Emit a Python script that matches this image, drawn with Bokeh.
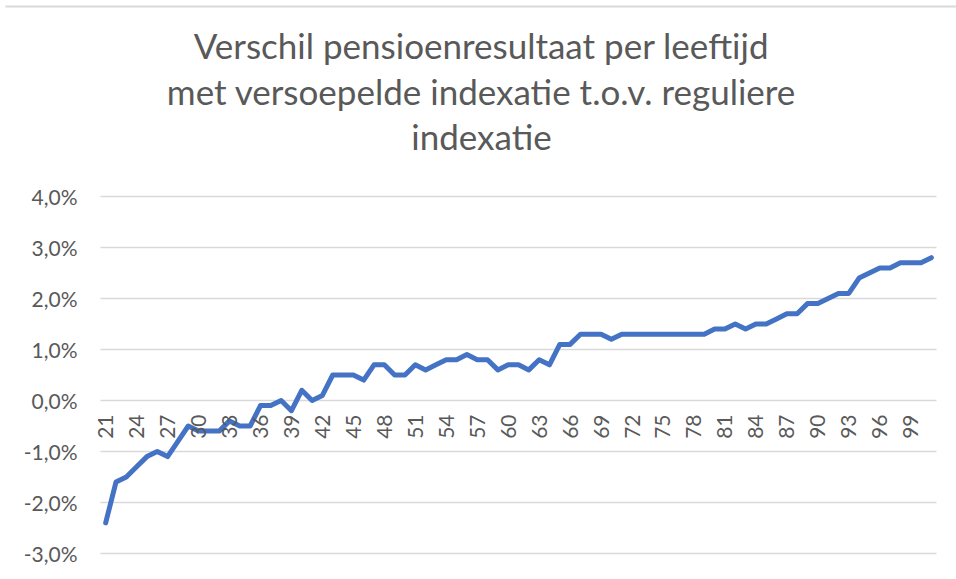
import math
from bokeh.plotting import figure
from bokeh.models import ColumnDataSource, FixedTicker, LinearAxis, Range1d
from bokeh.core.properties import value
from bokeh.embed import file_html
from bokeh.resources import INLINE

# ---- data ----
ages = list(range(21, 102))
verschil = [
    -2.4, -1.6, -1.5, -1.3, -1.1, -1.0, -1.1, -0.8, -0.5, -0.6,   # 21-30
    -0.6, -0.6, -0.4, -0.5, -0.5, -0.1, -0.1, 0.0, -0.2, 0.2,     # 31-40
    0.0, 0.1, 0.5, 0.5, 0.5, 0.4, 0.7, 0.7, 0.5, 0.5,             # 41-50
    0.7, 0.6, 0.7, 0.8, 0.8, 0.9, 0.8, 0.8, 0.6, 0.7,             # 51-60
    0.7, 0.6, 0.8, 0.7, 1.1, 1.1, 1.3, 1.3, 1.3, 1.2,             # 61-70
    1.3, 1.3, 1.3, 1.3, 1.3, 1.3, 1.3, 1.3, 1.3, 1.4,             # 71-80
    1.4, 1.5, 1.4, 1.5, 1.5, 1.6, 1.7, 1.7, 1.9, 1.9,             # 81-90
    2.0, 2.1, 2.1, 2.4, 2.5, 2.6, 2.6, 2.7, 2.7, 2.7,             # 91-100
    2.8,                                                          # 101
]
x_tick_ages = [21, 24, 27, 30, 33, 36, 39, 42, 45, 48, 51, 54, 57, 60,
               63, 66, 69, 72, 75, 78, 81, 84, 87, 90, 93, 96, 99]
x_tick_labels = ["21", "24", "27", "30", "33", "36", "39", "42", "45", "48",
                 "51", "54", "57", "60", "63", "66", "69", "72", "75", "78",
                 "81", "84", "87", "90", "93", "96", "99"]
y_ticks = [-3, -2, -1, 0, 1, 2, 3, 4]
y_tick_labels = ["-3,0%", "-2,0%", "-1,0%", "0,0%", "1,0%", "2,0%", "3,0%", "4,0%"]
title_lines = ["Verschil pensioenresultaat per leeftijd",
               "met versoepelde indexatie t.o.v. reguliere",
               "indexatie"]

FONT = "Lato"
GREY = "#595959"
GRID = "#d9d9d9"

# ---- layout (pixels on the canvas) ----
W, H = 956, 575
PL, PR, PT, PB = 100, 936, 196, 553          # plot area edges
DX0, DX1 = 20.5, 101.5                        # category band edges
DY0, DY1 = -3.0, 4.0                          # value axis range
sx = (PR - PL) / (DX1 - DX0)
sy = (PB - PT) / (DY1 - DY0)
def px2x(px): return DX0 + (px - PL) / sx
def px2y(py): return DY1 + (PT - py) / sy

p = figure(width=W, height=H, output_backend="svg", toolbar_location=None,
           x_range=Range1d(px2x(0), px2x(W)), y_range=Range1d(px2y(H), px2y(0)),
           x_axis_location=None, y_axis_location=None, title=None,
           min_border=0)
p.outline_line_color = None
p.background_fill_color = "white"
p.border_fill_color = "white"
p.grid.grid_line_color = None

# chart border (top edge of the chart area)
border_src = ColumnDataSource(data=dict(
    x0=[px2x(5)], y0=[px2y(6)], x1=[px2x(W + 5)], y1=[px2y(6)]))
p.segment(x0="x0", y0="y0", x1="x1", y1="y1", source=border_src,
          line_color=GRID, line_width=2)

# horizontal gridlines across the plot area only
grid_src = ColumnDataSource(data=dict(x0=[DX0] * len(y_ticks), x1=[DX1] * len(y_ticks),
                                      y=y_ticks))
p.segment(x0="x0", y0="y", x1="x1", y1="y", source=grid_src,
          line_color=GRID, line_width=1.4)

# value axis at the left edge of the plot area
yax = LinearAxis(fixed_location=DX0, ticker=FixedTicker(ticks=y_ticks))
yax.major_label_overrides = {t: l for t, l in zip(y_ticks, y_tick_labels)}
yax.axis_line_color = None
yax.major_tick_line_color = None
yax.minor_tick_line_color = None
yax.major_tick_out = 0
yax.major_tick_in = 0
yax.major_label_standoff = 23
yax.major_label_text_font = FONT
yax.major_label_text_font_size = "21px"
yax.major_label_text_color = GREY
p.add_layout(yax, "left")

# category axis crossing at 0
xax = LinearAxis(fixed_location=0, ticker=FixedTicker(ticks=x_tick_ages))
xax.major_label_overrides = {t: l for t, l in zip(x_tick_ages, x_tick_labels)}
xax.major_label_orientation = math.pi / 2
xax.axis_line_color = None
xax.major_tick_line_color = None
xax.minor_tick_line_color = None
xax.major_tick_out = 0
xax.major_tick_in = 0
xax.major_label_standoff = 14
xax.major_label_text_font = FONT
xax.major_label_text_font_size = "21px"
xax.major_label_text_color = GREY
p.add_layout(xax, "below")

src = ColumnDataSource(data=dict(age=ages, value=verschil))
p.line(x="age", y="value", source=src, line_color="#4472C4", line_width=5,
       line_join="round", line_cap="round")

# title
title_src = ColumnDataSource(data=dict(
    x=[px2x(481)] * 3, y=[px2y(44), px2y(90), px2y(135)], text=title_lines))
p.text(x="x", y="y", text="text", source=title_src, text_align="center",
       text_baseline="alphabetic", text_font=value(FONT), text_font_size="35px",
       text_color=GREY)

open("out.html", "w").write(file_html(p, INLINE))
